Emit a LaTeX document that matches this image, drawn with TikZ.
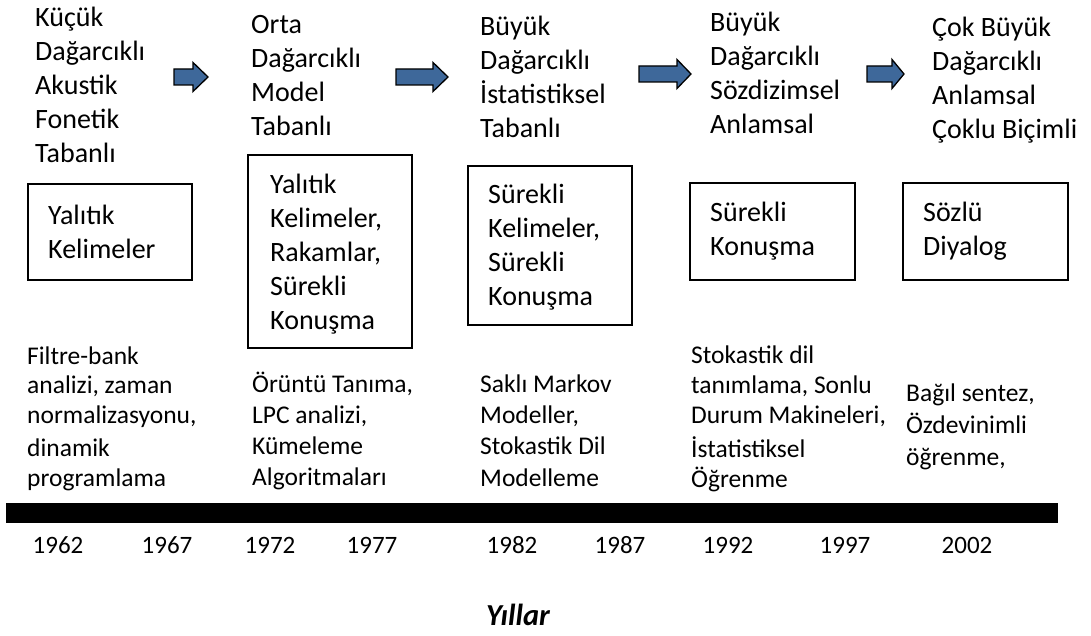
\documentclass[tikz,border=0pt]{standalone}
\usepackage{fontspec}
\setmainfont{Carlito}
\definecolor{arrowblue}{RGB}{62,104,154}
% zero-width strut one em tall, so a node's top edge sits one em above the first baseline
\newcommand\firstline{\rule{0pt}{1em}}
\begin{document}
\begin{tikzpicture}[x=1pt,y=-1pt,
  txt/.style={anchor=north west,inner sep=0pt,align=left,
    font=\fontsize{28}{34}\selectfont},
  lowtxt/.style={anchor=north west,inner sep=0pt,align=left,
    font=\fontsize{25.5}{30.3}\selectfont},
  era/.style={draw,line width=1.4pt,inner sep=0pt},
  year/.style={anchor=base,inner sep=0pt,font=\fontsize{25}{30}\selectfont},
  blockarrow/.style={draw=black,line width=1.3pt,fill=arrowblue,line join=miter}]
\useasboundingbox (0,0) rectangle (1091,636);

% block arrows between eras: \barrow{start}{head start}{tip}{centre y}
\newcommand\barrow[4]{%
  \draw[blockarrow] (#1,#4-8) -- (#2,#4-8) -- (#2,#4-14.5) -- (#3,#4)
    -- (#2,#4+14.5) -- (#2,#4+8) -- (#1,#4+8) -- cycle;}

% era headings (node placed one em above the first baseline)
\node[txt] (h1) at (35,26-28) {\firstline Küçük\\Dağarcıklı\\Akustik\\Fonetik\\Tabanlı};
\node[txt] (h2) at (251,33-28) {\firstline Orta\\Dağarcıklı\\Model\\Tabanlı};
\node[txt] (h3) at (480,35-28) {\firstline Büyük\\Dağarcıklı\\İstatistiksel\\Tabanlı};
\node[txt] (h4) at (710,31-28) {\firstline Büyük\\Dağarcıklı\\Sözdizimsel\\Anlamsal};
\node[txt] (h5) at (932,36-28) {\firstline Çok Büyük\\Dağarcıklı\\Anlamsal\\Çoklu Biçimli};

\barrow{174}{193}{208}{77}
\barrow{396}{433}{448}{77}
\barrow{639}{677}{691}{74}
\barrow{867}{892}{904}{74}

% task boxes
\draw[era] (28,184) rectangle (192,280);
\draw[era] (248,155) rectangle (412,348);
\draw[era] (468,166) rectangle (632,325);
\draw[era] (690,183) rectangle (855,280);
\draw[era] (903,183) rectangle (1068,280);

\node[txt] (b1) at (48,224-28) {\firstline Yalıtık\\Kelimeler};
\node[txt] (b2) at (270,193-28) {\firstline Yalıtık\\Kelimeler,\\Rakamlar,\\Sürekli\\Konuşma};
\node[txt] (b3) at (488,203-28) {\firstline Sürekli\\Kelimeler,\\Sürekli\\Konuşma};
\node[txt] (b4) at (710,221-28) {\firstline Sürekli\\Konuşma};
\node[txt] (b5) at (923,221-28) {\firstline Sözlü\\Diyalog};

% techniques
\node[lowtxt,font=\fontsize{25.5}{29.5}\selectfont] (t1) at (27,364-25.5) {\firstline Filtre-bank\\analizi, zaman\\normalizasyonu,\\[4pt]dinamik\\programlama};
\node[lowtxt,font=\fontsize{25.5}{31}\selectfont] (t2) at (252,392-25.5) {\firstline Örüntü Tanıma,\\LPC analizi,\\Kümeleme\\Algoritmaları};
\node[lowtxt,font=\fontsize{25.5}{31.3}\selectfont] (t3) at (480,392-25.5) {\firstline Saklı Markov\\Modeller,\\Stokastik Dil\\Modelleme};
\node[lowtxt,font=\fontsize{25.5}{30}\selectfont] (t4) at (691,363-25.5) {\firstline Stokastik dil\\tanımlama, Sonlu\\Durum Makineleri,\\[4pt]İstatistiksel\\Öğrenme};
\node[lowtxt,font=\fontsize{25.5}{32}\selectfont] (t5) at (906,401-25.5) {\firstline Bağıl sentez,\\Özdevinimli\\öğrenme,};

% time axis
\fill (6,503) rectangle (1058,523);
\foreach \yr/\xx in {1962/58,1967/167,1972/270,1977/372,1982/512,1987/620,1992/728,1997/845,2002/967}
  \node[year] (y\yr) at (\xx,553) {\yr};
\node[anchor=base,inner sep=0pt,font=\fontsize{30.5}{34}\selectfont\bfseries\itshape] (axis) at (518,625) {Yıllar};
\end{tikzpicture}
\end{document}
